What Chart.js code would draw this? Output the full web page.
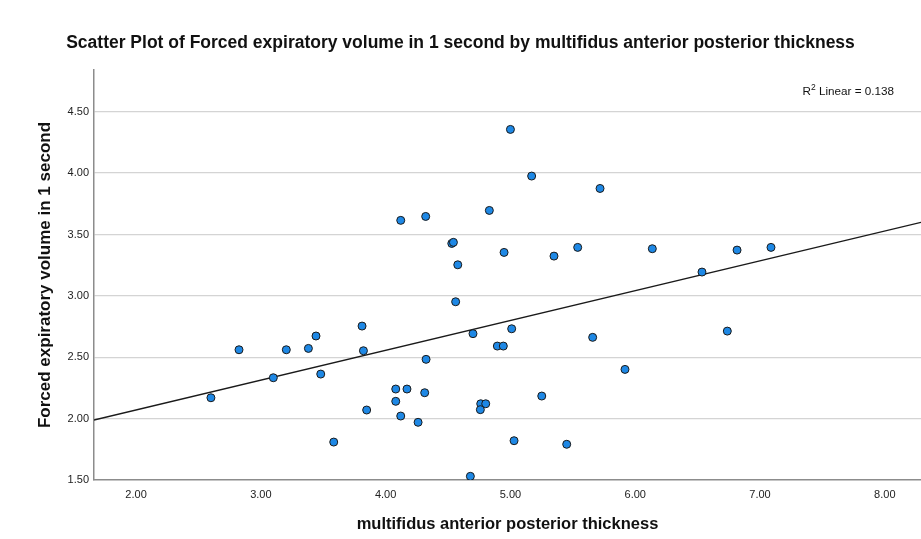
<!DOCTYPE html>
<html>
<head>
<meta charset="utf-8">
<script src="https://cdn.jsdelivr.net/npm/chart.js@4/dist/chart.umd.min.js"></script>
<style>
html,body{margin:0;padding:0;background:#fff;}
#wrap{width:921px;height:539px;position:relative;}
</style>
</head>
<body>
<div id="wrap"><canvas id="c" width="921" height="539"></canvas></div>
<script>
// Data
const thickness = [2.60, 2.825, 3.10, 3.204, 3.381, 3.442, 3.48, 3.584, 3.811, 3.822, 3.848,
  4.561, 4.70, 5.01, 4.895, 4.943, 5.659, 5.918, 4.324, 4.081, 4.171, 4.313, 4.081, 4.121, 4.26,
  4.762, 4.802, 4.759, 5.251, 5.029, 5.451, 4.679,
  5.00, 5.17, 5.718, 4.831, 4.121, 4.321, 4.53, 4.543, 4.578, 4.949, 5.349, 5.539,
  6.137, 6.535, 6.816, 7.088, 6.738];
const fev1 = [2.17, 2.561, 2.333, 2.561, 2.572, 2.673, 2.363, 1.809, 2.754, 2.553, 2.07,
  2.952, 2.692, 2.732, 2.591, 2.591, 2.662, 2.401, 2.483, 2.241, 2.241, 2.211, 2.141, 2.021, 1.97,
  2.121, 2.121, 2.073, 2.184, 1.82, 1.791, 1.53,
  4.356, 3.976, 3.875, 3.696, 3.615, 3.647, 3.427, 3.436, 3.253, 3.354, 3.324, 3.395,
  3.384, 3.194, 3.373, 3.395, 2.713];
// Fit line endpoints as drawn (x, y)
const fitX = [1.663, 8.29];
const fitY = [1.989, 3.599];
const xTicks = [2, 3, 4, 5, 6, 7, 8];
const yTicks = [1.5, 2.0, 2.5, 3.0, 3.5, 4.0, 4.5];
const titleText = 'Scatter Plot of Forced expiratory volume in 1 second by multifidus anterior posterior thickness';
const xTitle = 'multifidus anterior posterior thickness';
const yTitle = 'Forced expiratory volume in 1 second';
const r2Value = '0.138';

const FONT = 'Arial, "Liberation Sans", sans-serif';

const r2Plugin = {
  id: 'r2label',
  afterDraw(chart) {
    const ctx = chart.ctx;
    ctx.save();
    ctx.fillStyle = '#111';
    ctx.textBaseline = 'alphabetic';
    const rest = ' Linear = ' + r2Value;
    ctx.font = '11.7px ' + FONT;
    const wR = ctx.measureText('R').width;
    const wRest = ctx.measureText(rest).width;
    ctx.font = '8.5px ' + FONT;
    const w2 = ctx.measureText('2').width;
    const right = 894, base = 95;
    let x = right - (wR + w2 + wRest);
    ctx.textAlign = 'left';
    ctx.font = '11.7px ' + FONT;
    ctx.fillText('R', x, base);
    x += wR;
    ctx.font = '8.5px ' + FONT;
    ctx.fillText('2', x, base - 5);
    x += w2;
    ctx.font = '11.7px ' + FONT;
    ctx.fillText(rest, x, base);
    ctx.restore();
  }
};

new Chart(document.getElementById('c'), {
  type: 'scatter',
  data: {
    datasets: [
      {
        type: 'line',
        data: fitX.map((x, i) => ({x: x, y: fitY[i]})),
        borderColor: '#1a1a1a',
        borderWidth: 1.4,
        pointRadius: 0,
        fill: false,
        order: 2
      },
      {
        data: thickness.map((x, i) => ({x: x, y: fev1[i]})),
        backgroundColor: '#1e88e5',
        borderColor: '#1a1a1a',
        borderWidth: 1,
        pointRadius: 4,
        order: 1
      }
    ]
  },
  options: {
    responsive: false,
    animation: false,
    devicePixelRatio: 1,
    layout: {autoPadding: false, padding: {left: 0, right: 0, top: 0, bottom: 0}},
    plugins: {
      legend: {display: false},
      tooltip: {enabled: false},
      title: {
        display: true,
        text: titleText,
        color: '#111',
        font: {family: FONT, size: 17.5, weight: 'bold', lineHeight: 1.2},
        padding: {top: 32.5, bottom: 16.5}
      }
    },
    scales: {
      x: {
        type: 'linear',
        min: 1.663,
        max: 8.29,
        afterBuildTicks(scale) { scale.ticks = xTicks.map(v => ({value: v})); },
        afterFit(scale) { scale.height = 59; },
        grid: {display: false, drawTicks: false},
        border: {display: true, color: '#8c8c8c', width: 1.5},
        ticks: {
          padding: 8,
          color: '#222',
          font: {family: FONT, size: 11},
          maxRotation: 0,
          callback: v => Number(v).toFixed(2)
        },
        title: {
          display: true,
          text: xTitle,
          color: '#111',
          font: {family: FONT, size: 16.5, weight: 'bold', lineHeight: 1.2},
          padding: {top: 0, bottom: 5}
        }
      },
      y: {
        type: 'linear',
        min: 1.5,
        max: 4.84,
        afterBuildTicks(scale) { scale.ticks = yTicks.map(v => ({value: v})); },
        afterFit(scale) { scale.width = 94; },
        grid: {
          display: true,
          drawTicks: false,
          color: ctx => (ctx.tick && ctx.tick.value === 1.5) ? 'rgba(0,0,0,0)' : '#d4d4d4',
          lineWidth: 1.3
        },
        border: {display: true, color: '#8c8c8c', width: 1.5},
        ticks: {
          padding: 5,
          color: '#222',
          font: {family: FONT, size: 11},
          callback: v => Number(v).toFixed(2)
        },
        title: {
          display: true,
          text: yTitle,
          color: '#111',
          font: {family: FONT, size: 17, weight: 'bold', lineHeight: 1.2},
          padding: {top: 35, bottom: 0}
        }
      }
    }
  },
  plugins: [r2Plugin]
});
</script>
</body>
</html>
